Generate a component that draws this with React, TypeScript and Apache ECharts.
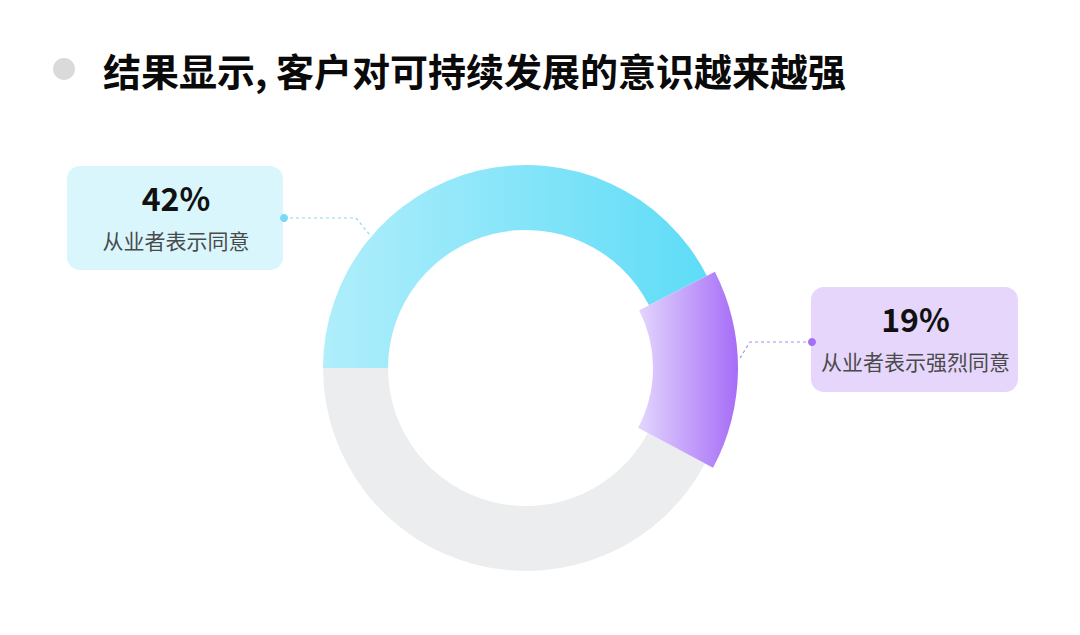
import React, { useEffect, useRef } from "react";
import * as echarts from "echarts";

const TITLE = "结果显示, 客户对可持续发展的意识越来越强";
const sliceNames = ["从业者表示同意", "从业者表示强烈同意", "其他"];
const sliceValues = [42.5, 15.3, 42.2];
const calloutPercents = ["42%", "19%"];
const calloutTexts = ["从业者表示同意", "从业者表示强烈同意"];

const CJK = '"Noto Sans CJK SC", "Noto Sans", sans-serif';

export default function App() {
  const ref = useRef<HTMLDivElement>(null);
  useEffect(() => {
    if (!ref.current) return;
    const chart = echarts.init(ref.current, undefined, { renderer: "svg" });
    const cyanGrad = new echarts.graphic.LinearGradient(0, 0, 1, 0, [
      { offset: 0, color: "#b0eefb" },
      { offset: 1, color: "#5edcf7" },
    ]);
    const purpleGrad = new echarts.graphic.LinearGradient(0, 0, 1, 0, [
      { offset: 0, color: "#e3d6fd" },
      { offset: 1, color: "#a66cf7" },
    ]);
    const baseColors = [cyanGrad, "transparent", "#ebedee"];
    const topColors = ["transparent", purpleGrad, "transparent"];
    const mk = (colors: any[]) =>
      sliceNames.map((n, i) => ({
        name: n,
        value: sliceValues[i],
        itemStyle: { color: colors[i] },
      }));

    const boxes = [
      { x: 67, y: 166, w: 216, h: 104, fill: "#d9f6fd" },
      { x: 811, y: 287, w: 207, h: 105, fill: "#e6d6fc" },
    ];
    const graphics: any[] = [
      { type: "circle", shape: { cx: 64, cy: 69, r: 11 }, style: { fill: "#dadada" } },
      {
        type: "text",
        style: {
          text: TITLE,
          x: 103,
          y: 69,
          textVerticalAlign: "middle",
          font: `bold 38px ${CJK}`,
          fill: "#0a0a0a",
        },
      },
    ];
    boxes.forEach((b, i) => {
      graphics.push({
        type: "rect",
        shape: { x: b.x, y: b.y, width: b.w, height: b.h, r: 13 },
        style: { fill: b.fill },
      });
      graphics.push({
        type: "text",
        style: {
          text: calloutPercents[i],
          x: b.x + b.w / 2 + 1,
          y: b.y + 31,
          textAlign: "center",
          textVerticalAlign: "middle",
          font: `bold 32px ${CJK}`,
          fill: "#111111",
        },
      });
      graphics.push({
        type: "text",
        style: {
          text: calloutTexts[i],
          x: b.x + b.w / 2 + 1,
          y: b.y + 74,
          textAlign: "center",
          textVerticalAlign: "middle",
          font: `21px ${CJK}`,
          fill: "#4a4a4a",
        },
      });
    });
    graphics.push(
      {
        type: "polyline",
        shape: { points: [[284, 218], [356, 218], [369, 234]] },
        style: { stroke: "#8edcf0", lineWidth: 1.2, lineDash: [3, 3], fill: "none" },
      },
      { type: "circle", shape: { cx: 284, cy: 218, r: 4 }, style: { fill: "#78daf4" } },
      {
        type: "polyline",
        shape: { points: [[812, 342], [750, 342], [740, 358]] },
        style: { stroke: "#b08bf0", lineWidth: 1.2, lineDash: [3, 3], fill: "none" },
      },
      { type: "circle", shape: { cx: 812, cy: 342, r: 4 }, style: { fill: "#a56ff5" } }
    );

    const common = {
      type: "pie",
      center: [526, 368],
      startAngle: 180,
      clockwise: true,
      silent: true,
      label: { show: false },
      labelLine: { show: false },
      emphasis: { disabled: true },
      avoidLabelOverlap: false,
    };

    chart.setOption({
      animation: false,
      backgroundColor: "#ffffff",
      series: [
        { ...common, radius: [138, 203], data: mk(baseColors), z: 1 },
        { ...common, radius: [127, 212], data: mk(topColors), z: 2 },
      ],
      graphic: graphics,
    });
    return () => chart.dispose();
  }, []);
  return (
    <div
      ref={ref}
      style={{ position: "fixed", left: 0, top: 0, width: 1080, height: 635 }}
    />
  );
}
